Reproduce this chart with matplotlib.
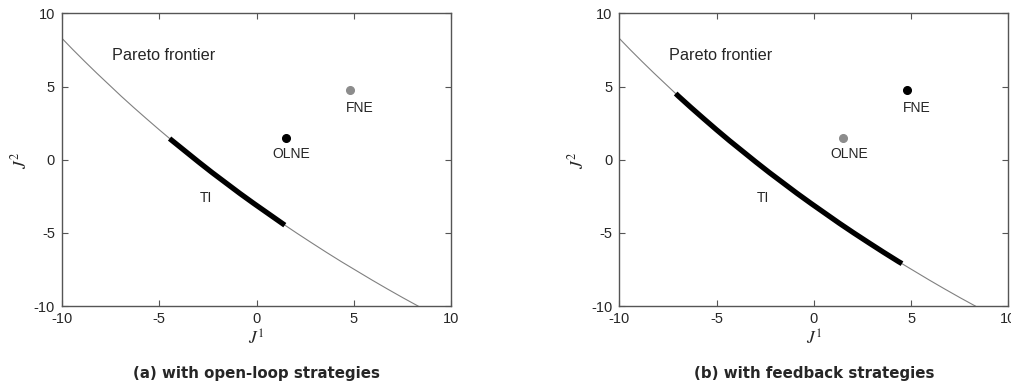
"""
Pareto frontier with open-loop and feedback Nash equilibria.
"""

import matplotlib
matplotlib.use('Agg')
import matplotlib.pyplot as plt

# Pareto frontier (J1, J2)
frontier_j1 = [-10.0, -9.44, -8.83, -8.22, -7.59, -6.96, -6.32, -5.67, -5.01,
               -4.34, -3.66, -2.98, -2.29, -1.58, -0.87, -0.15, 0.58, 1.31,
               2.06, 2.82, 3.58, 4.35, 5.14, 5.93, 6.72, 7.53, 8.30]
frontier_j2 = [8.30, 7.53, 6.72, 5.93, 5.14, 4.35, 3.58, 2.82, 2.06,
               1.31, 0.58, -0.15, -0.87, -1.58, -2.29, -2.98, -3.66, -4.34,
               -5.01, -5.67, -6.32, -6.96, -7.59, -8.22, -8.83, -9.44, -10.0]

# time-inconsistent part of the frontier, open-loop case
ti_ol_j1 = [-4.47, -4.34, -3.66, -2.98, -2.29, -1.58, -0.87, -0.15, 0.58, 1.31, 1.45]
ti_ol_j2 = [1.45, 1.31, 0.58, -0.15, -0.87, -1.58, -2.29, -2.98, -3.66, -4.34, -4.47]

# time-inconsistent part of the frontier, feedback case
ti_fb_j1 = [-7.10, -6.96, -6.32, -5.67, -5.01, -4.34, -3.66, -2.98, -2.29, -1.58,
            -0.87, -0.15, 0.58, 1.31, 2.06, 2.82, 3.58, 4.35, 4.53]
ti_fb_j2 = [4.53, 4.35, 3.58, 2.82, 2.06, 1.31, 0.58, -0.15, -0.87, -1.58,
            -2.29, -2.98, -3.66, -4.34, -5.01, -5.67, -6.32, -6.96, -7.10]

olne = (1.5, 1.5)
fne = (4.8, 4.8)

ticks = [-10, -5, 0, 5, 10]
captions = ['(a) with open-loop strategies', '(b) with feedback strategies']

plt.rcParams['font.family'] = ['Liberation Sans', 'DejaVu Sans']
plt.rcParams['mathtext.fontset'] = 'stix'
plt.rcParams['axes.unicode_minus'] = False

dark = '#262626'
spine = '#555555'
thin = '#808080'
light = '#8c8c8c'

fig = plt.figure(figsize=(10.11, 3.85), dpi=100)
ax_a = fig.add_axes([0.0613, 0.205, 0.385, 0.760])  # [left bottom width height]
ax_b = fig.add_axes([0.6125, 0.205, 0.385, 0.760])

panels = [
    (ax_a, ti_ol_j1, ti_ol_j2, 'k', light),
    (ax_b, ti_fb_j1, ti_fb_j2, light, 'k'),
]

for i, (ax, tj1, tj2, c_olne, c_fne) in enumerate(panels):
    ax.plot(frontier_j1, frontier_j2, color=thin, lw=0.8, zorder=2)
    ax.plot(tj1, tj2, color='k', lw=3.8, solid_capstyle='butt', zorder=3)
    ax.plot(*olne, 'o', color=c_olne, ms=5.5, zorder=4)
    ax.plot(*fne, 'o', color=c_fne, ms=5.5, zorder=4)

    ax.text(olne[0] + 0.3, olne[1] - 1.1, 'OLNE', ha='center', va='center',
            fontsize=10, color=dark)
    ax.text(fne[0] + 0.5, fne[1] - 1.25, 'FNE', ha='center', va='center',
            fontsize=10, color=dark)
    ax.text(-2.6, -2.6, 'TI', ha='center', va='center', fontsize=10, color=dark)
    ax.text(-7.45, 7.1, 'Pareto frontier', ha='left', va='center',
            fontsize=11.7, color=dark)

    ax.set_xlim(-10, 10)
    ax.set_ylim(-10, 10)
    ax.set_xticks(ticks)
    ax.set_yticks(ticks)
    ax.tick_params(direction='in', top=True, right=True, length=4,
                   width=0.8, color=spine, labelcolor=dark, labelsize=10.5)
    ax.tick_params(axis='x', pad=4)
    ax.tick_params(axis='y', pad=5)
    for s in ax.spines.values():
        s.set_color(spine)
        s.set_linewidth(1.0)

    ax.set_xlabel('$J^1$', fontsize=12.5, color=dark, labelpad=2)
    ax.set_ylabel('$J^2$', fontsize=12.5, color=dark, labelpad=3)

    # caption under each panel
    ax.text(0.5, -0.232, captions[i], transform=ax.transAxes, ha='center',
            va='center', fontsize=10.8, fontweight='bold', color=dark,
            family='DejaVu Sans')

fig.savefig('out.png', dpi=100)
plt.close('all')
